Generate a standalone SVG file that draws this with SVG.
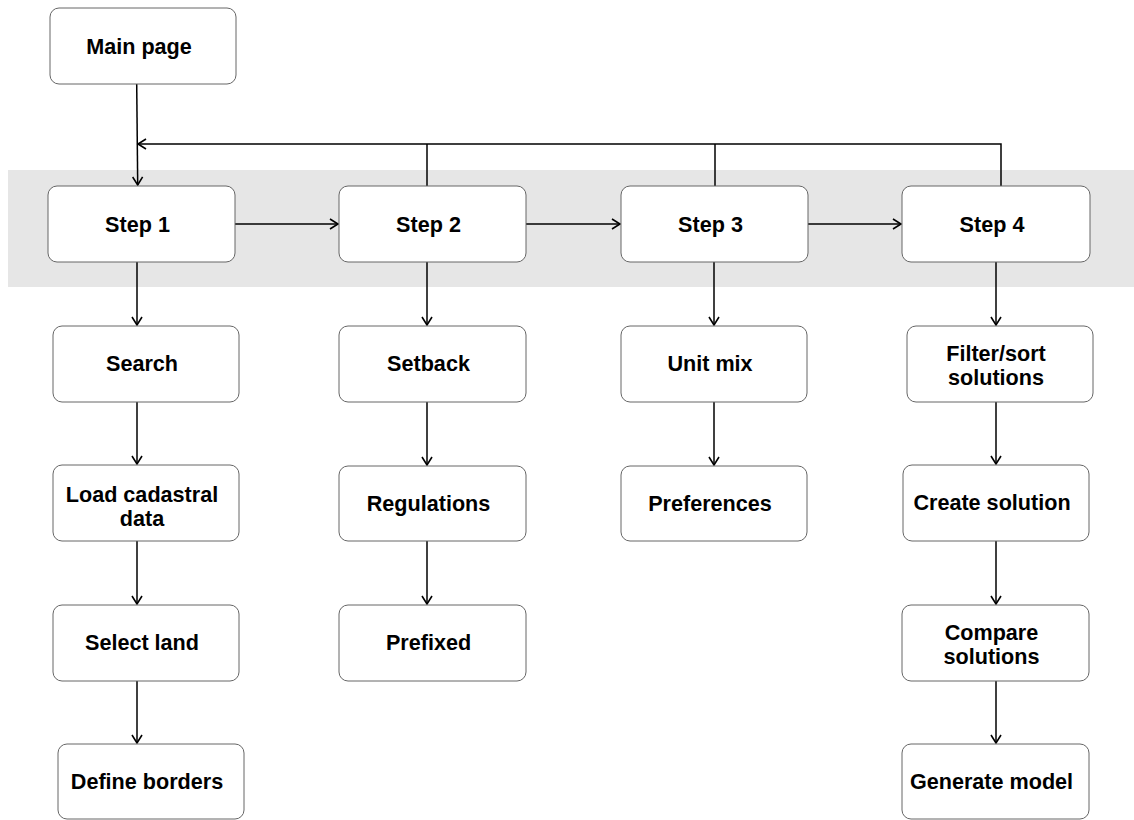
<svg xmlns="http://www.w3.org/2000/svg" width="1134" height="820" viewBox="0 0 1134 820">
  <defs>
    <marker id="open-arrow" markerWidth="12" markerHeight="12" refX="10" refY="6" orient="auto" markerUnits="userSpaceOnUse">
      <path d="M2,1 L10,6 L2,11" fill="none" stroke="#000" stroke-width="1.6"/>
    </marker>
    <style>
      .node rect { fill: #fff; stroke: #666; stroke-width: 1; }
      .node text { font-family: "Liberation Sans", Arial, sans-serif; font-weight: bold; font-size: 21.6px; fill: #000; text-anchor: middle; }
      .edge { fill: none; stroke: #000; stroke-width: 1.5; }
      .arrow { marker-end: url(#open-arrow); }
    </style>
  </defs>

  <!-- step lane -->
  <rect x="8" y="170" width="1126" height="117" fill="#e6e6e6"/>

  <!-- connectors -->
  <g id="connectors">
    <path class="edge arrow" d="M136.7,84 L137.7,185"/>
    <path class="edge" d="M427,186 V144"/>
    <path class="edge" d="M715,186 V144"/>
    <path class="edge arrow" d="M1001,186 V144 H138"/>

    <path class="edge arrow" d="M235,224 H338"/>
    <path class="edge arrow" d="M526,224 H620"/>
    <path class="edge arrow" d="M808,224 H901"/>

    <path class="edge arrow" d="M137,262 V325"/>
    <path class="edge arrow" d="M137,402 V464"/>
    <path class="edge arrow" d="M137,541 V604"/>
    <path class="edge arrow" d="M137,681 V743"/>

    <path class="edge arrow" d="M427,262 V325"/>
    <path class="edge arrow" d="M427,402 V465"/>
    <path class="edge arrow" d="M427,541 V604"/>

    <path class="edge arrow" d="M714,262 V325"/>
    <path class="edge arrow" d="M714,402 V465"/>

    <path class="edge arrow" d="M996,262 V325"/>
    <path class="edge arrow" d="M996,402 V464"/>
    <path class="edge arrow" d="M996,541 V604"/>
    <path class="edge arrow" d="M996,681 V743"/>
  </g>

  <!-- nodes -->
  <g id="main-page" class="node">
    <rect x="50" y="8" width="186" height="76" rx="9"/>
    <text x="139" y="53.5">Main page</text>
  </g>

  <g id="step-1" class="node">
    <rect x="48" y="186" width="187" height="76" rx="9"/>
    <text x="137.5" y="231.5">Step 1</text>
  </g>
  <g id="step-2" class="node">
    <rect x="339" y="186" width="187" height="76" rx="9"/>
    <text x="428.5" y="231.5">Step 2</text>
  </g>
  <g id="step-3" class="node">
    <rect x="621" y="186" width="187" height="76" rx="9"/>
    <text x="710.5" y="231.5">Step 3</text>
  </g>
  <g id="step-4" class="node">
    <rect x="902" y="186" width="188" height="76" rx="9"/>
    <text x="992" y="231.5">Step 4</text>
  </g>

  <g id="search" class="node">
    <rect x="53" y="326" width="186" height="76" rx="9"/>
    <text x="142" y="371">Search</text>
  </g>
  <g id="load-cadastral-data" class="node">
    <rect x="53" y="465" width="186" height="76" rx="9"/>
    <text x="142" y="502">Load cadastral</text>
    <text x="142" y="526">data</text>
  </g>
  <g id="select-land" class="node">
    <rect x="53" y="605" width="186" height="76" rx="9"/>
    <text x="142" y="650">Select land</text>
  </g>
  <g id="define-borders" class="node">
    <rect x="58" y="744" width="186" height="75" rx="9"/>
    <text x="147" y="789">Define borders</text>
  </g>

  <g id="setback" class="node">
    <rect x="339" y="326" width="187" height="76" rx="9"/>
    <text x="428.5" y="371">Setback</text>
  </g>
  <g id="regulations" class="node">
    <rect x="339" y="466" width="187" height="75" rx="9"/>
    <text x="428.5" y="511">Regulations</text>
  </g>
  <g id="prefixed" class="node">
    <rect x="339" y="605" width="187" height="76" rx="9"/>
    <text x="428.5" y="650">Prefixed</text>
  </g>

  <g id="unit-mix" class="node">
    <rect x="621" y="326" width="186" height="76" rx="9"/>
    <text x="710" y="371">Unit mix</text>
  </g>
  <g id="preferences" class="node">
    <rect x="621" y="466" width="186" height="75" rx="9"/>
    <text x="710" y="511">Preferences</text>
  </g>

  <g id="filter-sort-solutions" class="node">
    <rect x="907" y="326" width="186" height="76" rx="9"/>
    <text x="996" y="361">Filter/sort</text>
    <text x="996" y="385">solutions</text>
  </g>
  <g id="create-solution" class="node">
    <rect x="903" y="465" width="186" height="76" rx="9"/>
    <text x="992" y="510">Create solution</text>
  </g>
  <g id="compare-solutions" class="node">
    <rect x="902" y="605" width="187" height="76" rx="9"/>
    <text x="991.5" y="640">Compare</text>
    <text x="991.5" y="664">solutions</text>
  </g>
  <g id="generate-model" class="node">
    <rect x="902" y="744" width="187" height="75" rx="9"/>
    <text x="991.5" y="789">Generate model</text>
  </g>
</svg>
